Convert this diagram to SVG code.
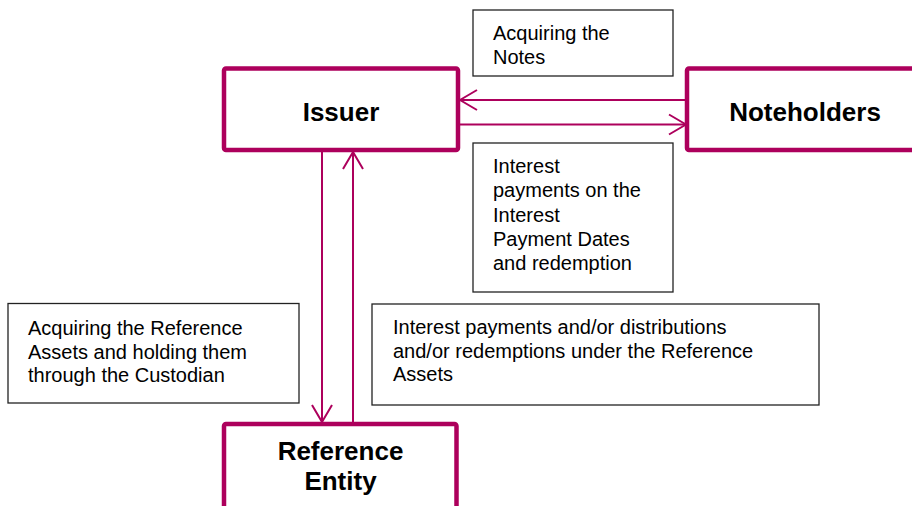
<svg xmlns="http://www.w3.org/2000/svg" width="912" height="506" viewBox="0 0 912 506">
<style>
.node{fill:#fff;stroke:#AD005C;stroke-width:4.5}
.lbl{font-family:"Liberation Sans",Arial,sans-serif;font-weight:bold;font-size:26px;fill:#000;text-anchor:middle}
.note{fill:#fff;stroke:#222;stroke-width:1.3}
.txt{font-family:"Liberation Sans",Arial,sans-serif;font-size:20px;fill:#000}
.conn{fill:none;stroke:#AD005C;stroke-width:2}
</style>
<defs>
<marker id="arr" markerUnits="userSpaceOnUse" viewBox="0 0 19 24" refX="18" refY="12" markerWidth="19" markerHeight="24" orient="auto">
<path d="M1,2 L18,12 L1,22" fill="none" stroke="#AD005C" stroke-width="2"/>
</marker>
</defs>
<rect width="912" height="506" fill="#fff"/>
<g id="connectors">
<line class="conn" x1="685" y1="100" x2="460" y2="100" marker-end="url(#arr)"/>
<line class="conn" x1="460" y1="124.5" x2="686" y2="124.5" marker-end="url(#arr)"/>
<line class="conn" x1="322" y1="152" x2="322" y2="422" marker-end="url(#arr)"/>
<line class="conn" x1="353" y1="422" x2="353" y2="152" marker-end="url(#arr)"/>
</g>
<g id="issuer">
<rect class="node" x="224" y="68.5" width="234" height="81.5" rx="2"/>
<text class="lbl" x="341" y="120.5">Issuer</text>
</g>
<g id="noteholders">
<rect class="node" x="687" y="68.5" width="236" height="81.5" rx="2"/>
<text class="lbl" x="805" y="120.5">Noteholders</text>
</g>
<g id="reference-entity">
<rect class="node" x="224" y="424" width="232.5" height="100" rx="2"/>
<text class="lbl" x="340.5" y="460">Reference</text>
<text class="lbl" x="340.5" y="490">Entity</text>
</g>
<g id="note-acquiring-notes">
<rect class="note" x="473" y="10" width="200" height="66"/>
<text class="txt" x="493" y="40">Acquiring the</text>
<text class="txt" x="493" y="64">Notes</text>
</g>
<g id="note-interest-payments">
<rect class="note" x="473" y="143" width="200" height="149"/>
<text class="txt" x="493" y="173">Interest</text>
<text class="txt" x="493" y="197">payments on the</text>
<text class="txt" x="493" y="221.5">Interest</text>
<text class="txt" x="493" y="245.5">Payment Dates</text>
<text class="txt" x="493" y="270">and redemption</text>
</g>
<g id="note-acquiring-assets">
<rect class="note" x="8" y="303.5" width="291" height="99.5"/>
<text class="txt" x="28" y="334.5">Acquiring the Reference</text>
<text class="txt" x="28" y="358.5">Assets and holding them</text>
<text class="txt" x="28" y="382">through the Custodian</text>
</g>
<g id="note-reference-payments">
<rect class="note" x="372" y="304" width="447" height="101"/>
<text class="txt" x="393" y="334">Interest payments and/or distributions</text>
<text class="txt" x="393" y="357.5">and/or redemptions under the Reference</text>
<text class="txt" x="393" y="381">Assets</text>
</g>
</svg>
